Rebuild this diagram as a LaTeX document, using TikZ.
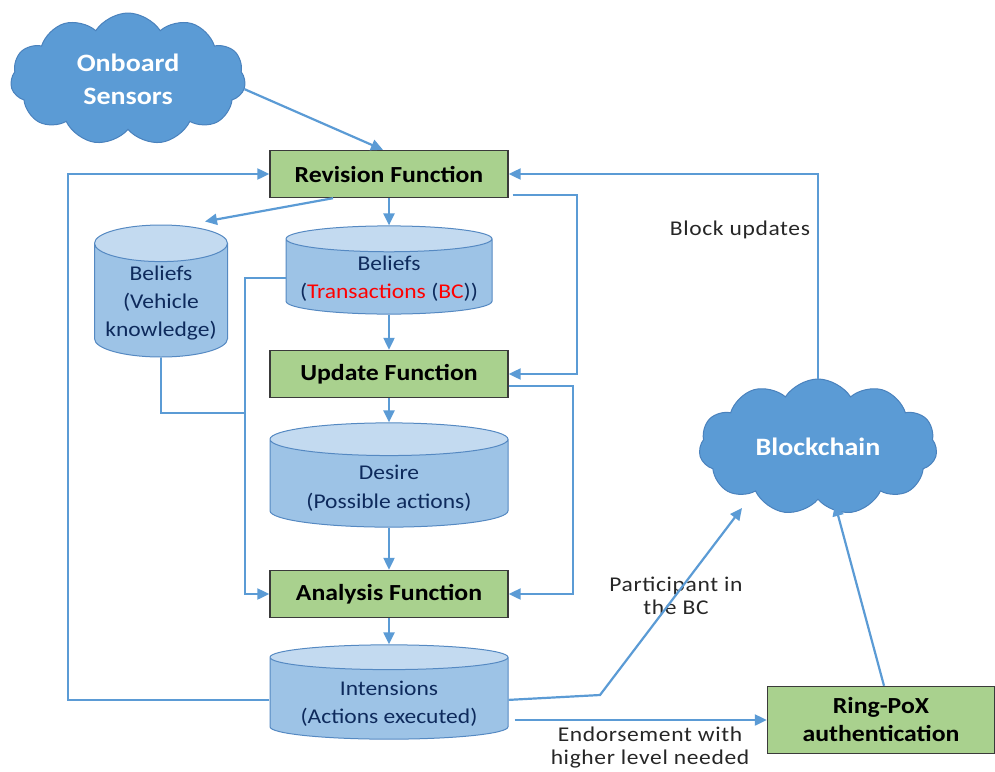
\documentclass[tikz,border=0pt]{standalone}
\usepackage{fontspec}
\setmainfont{Carlito}[FakeStretch=1.12]
\newfontfamily\lblfont{Carlito}[FakeStretch=1.12, LetterSpace=3]
\usetikzlibrary{arrows.meta,shapes.geometric,shapes.symbols}
\definecolor{flowblue}{HTML}{5B9BD5}
\definecolor{cloudedge}{HTML}{4A82BD}
\definecolor{boxgreen}{HTML}{A9D18E}
\definecolor{boxedge}{HTML}{3A3A3A}
\definecolor{dbbody}{HTML}{9DC3E6}
\definecolor{dbtop}{HTML}{C3DAF0}
\definecolor{dbedge}{HTML}{5589C2}
\definecolor{dbtext}{HTML}{0E2A5C}
\definecolor{lbltext}{HTML}{262626}

\begin{document}
\begin{tikzpicture}[
	x = 1pt, y = -1pt, % pixel units, y grows downward
	> = {Triangle[length=12pt,width=11pt]}, % arrow head style
	Flow/.style={draw=flowblue, line width=2.2pt},
	Cloud/.style={cloud, cloud puffs=11, cloud puff arc=115, cloud ignores aspect, draw=cloudedge, fill=flowblue, line width=1pt, text=white, align=center, font=\fontsize{25}{33}\selectfont\bfseries},
	Fn/.style={rectangle, draw=boxedge, fill=boxgreen, line width=1.4pt, minimum width=238pt, minimum height=47pt, align=center, font=\fontsize{23}{28}\selectfont\bfseries},
	Db/.style={cylinder, shape border rotate=90, anchor=shape center, draw=dbedge, line width=1pt, cylinder uses custom fill, cylinder body fill=dbbody, cylinder end fill=dbtop, text=dbtext, align=center, font=\fontsize{21}{28}\selectfont},
	Lbl/.style={text=lbltext, align=center, font=\lblfont\fontsize{21}{23}\selectfont},
	]
	\useasboundingbox (0,0) rectangle (995,771);

	% Clouds
	\node[Cloud, minimum width=235pt, minimum height=132pt] (OS) at (128,79) {Onboard\\Sensors};
	\node[Cloud, minimum width=238pt, minimum height=136pt] (BC) at (818,447) {Blockchain};

	% Function boxes
	\node[Fn] (rev) at (389,174) {Revision Function};
	\node[Fn] (upd) at (389,374) {Update Function};
	\node[Fn] (ana) at (389,594) {Analysis Function};
	\node[Fn, minimum width=227pt, minimum height=67pt] (ring) at (881,720) {Ring-PoX\\authentication};

	% Belief, desire and intension stores
	\node[Db, minimum width=133pt, minimum height=132pt, aspect=0.31] (bv) at (161,291) {Beliefs\\(Vehicle\\knowledge)};
	\node[Db, minimum width=206pt, minimum height=84pt, aspect=0.14] (bbc) at (389,270) {Beliefs\\(\textcolor{red}{Transactions} (\textcolor{red}{BC}))};
	\node[Db, minimum width=238pt, minimum height=90pt, aspect=0.19] (des) at (389,475) {\rule{0pt}{20pt}Desire\\[1pt](Possible actions)};
	\node[Db, minimum width=238pt, minimum height=82pt, aspect=0.135] (int) at (389,692) {\rule{0pt}{22pt}Intensions\\(Actions executed)};

	% Labels
	\node[Lbl] (lblock) at (740,230) {Block updates};
	\node[Lbl] (lpart) at (676,596) {Participant in\\the BC};
	\node[Lbl] (lend) at (650,748) {Endorsement with\\higher level needed};

	% Corner points
	\coordinate (L1) at (68,0);
	\coordinate (L2) at (245,0);
	\coordinate (J) at (245,413);
	\coordinate (R1) at (577,0);
	\coordinate (R2) at (573,0);
	\coordinate (K) at (600,695);

	% Paths connecting nodes
	\draw[Flow, ->] (OS.-5) -- ([xshift=-6pt]rev.north);
	\draw[Flow, ->] (int.west) -- (int.west -| L1) |- (rev.west);
	\draw[Flow, ->] ([xshift=-56pt]rev.south) -- ([xshift=44pt,yshift=3pt]bv.north);
	\draw[Flow, ->] (rev.south) -- (bbc.north);
	\draw[Flow, ->] ([xshift=4pt,yshift=3pt]rev.south east) coordinate (s1) -- (s1 -| R1) |- (upd.east);
	\draw[Flow, ->] (BC.north) |- (rev.east);
	\draw[Flow, ->] (bbc.south) -- (upd.north);
	\draw[Flow, ->] (bbc.west) -- (bbc.west -| L2) |- (ana.west);
	\draw[Flow] (bv.south) |- (J);
	\draw[Flow, ->] (upd.south) -- (des.north);
	\draw[Flow, ->] ([yshift=12pt]upd.south east) coordinate (s2) -- (s2 -| R2) |- (ana.east);
	\draw[Flow, ->] (des.south) -- (ana.north);
	\draw[Flow, ->] (ana.south) -- (int.north);
	\draw[Flow, ->] (int.east) -- (K) -- ([xshift=-76pt,yshift=-61pt]BC.center);
	\draw[Flow, ->] ([xshift=6pt]int.east |- ring.west) -- (ring.west);
	\draw[Flow, ->] ([xshift=3pt]ring.north) -- ([xshift=17pt,yshift=-4pt]BC.south);

\end{tikzpicture}
\end{document}
